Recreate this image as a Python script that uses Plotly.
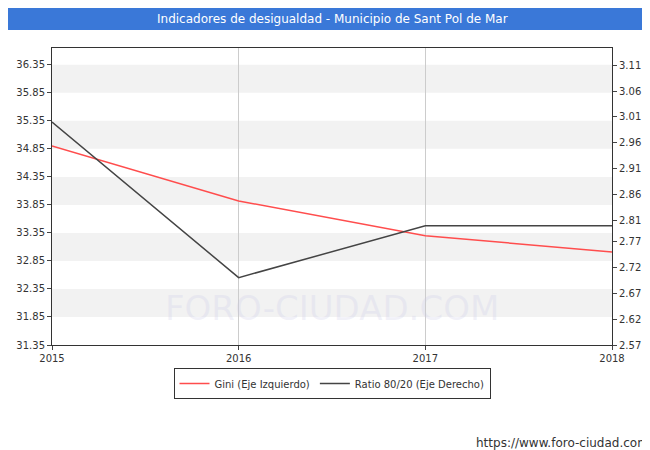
import plotly.graph_objects as go

years = [2015, 2016, 2017, 2018]
gini = [34.90, 33.92, 33.30, 33.01]
ratio = [3.00, 2.70, 2.80, 2.80]
left_ticks = [31.35, 31.85, 32.35, 32.85, 33.35, 33.85, 34.35, 34.85, 35.35, 35.85, 36.35]
right_ticks = [2.57, 2.62, 2.67, 2.72, 2.77, 2.81, 2.86, 2.91, 2.96, 3.01, 3.06, 3.11]

fig = go.Figure()
fig.add_trace(go.Scatter(x=years, y=gini, name="Gini (Eje Izquierdo)", mode="lines",
                         line=dict(color="#ff4d4d", width=1.5)))
fig.add_trace(go.Scatter(x=years, y=ratio, name="Ratio 80/20 (Eje Derecho)", mode="lines",
                         line=dict(color="#444444", width=1.5), yaxis="y2"))

# alternating grey bands
shapes = []
for i in range(1, len(left_ticks), 2):
    shapes.append(dict(type="rect", xref="paper", yref="y", x0=0, x1=1,
                       y0=left_ticks[i], y1=left_ticks[i + 1] if i + 1 < len(left_ticks) else 36.65,
                       fillcolor="#f2f2f2", line_width=0, layer="below"))
# title bar
shapes.append(dict(type="rect", xref="paper", yref="paper", x0=-0.1, x1=1.1, y0=1.061, y1=1.2,
                   fillcolor="#3a78d8", line_width=0))

fig.update_layout(
    width=650, height=450,
    margin=dict(l=44, r=46, t=40, b=113, autoexpand=False),
    paper_bgcolor="white", plot_bgcolor="white",
    font=dict(family="DejaVu Sans", size=10, color="#333"),
    shapes=shapes,
    showlegend=True,
    legend=dict(orientation="h", x=0.5, xanchor="center", y=-0.13, yanchor="middle",
                bgcolor="white", bordercolor="#333", borderwidth=1, font=dict(size=10)),
    xaxis=dict(range=[2015, 2018], tickvals=years, showgrid=True, gridcolor="#cccccc",
               showline=True, linecolor="#333", mirror=True, ticks="outside", ticklen=4,
               zeroline=False),
    yaxis=dict(range=[31.35, 36.65], tickvals=left_ticks, ticktext=[f"{v:.2f}" for v in left_ticks],
               showgrid=False, showline=True, linecolor="#333", mirror=True, zeroline=False,
               ticks="outside", ticklen=4),
    yaxis2=dict(range=[2.57, 3.143], tickvals=right_ticks, ticktext=[f"{v:.2f}" for v in right_ticks],
                overlaying="y", side="right", showgrid=False, zeroline=False,
                ticks="outside", ticklen=4),
    annotations=[
        dict(text="Indicadores de desigualdad - Municipio de Sant Pol de Mar", xref="paper", yref="paper",
             x=0.5, y=1.098, yanchor="middle", showarrow=False, font=dict(color="white", size=12)),
        dict(text="FORO-CIUDAD.COM", xref="paper", yref="paper", x=0.5, y=0.05, showarrow=False,
             font=dict(size=34, color="rgba(200,200,230,0.25)")),
        dict(text="https://www.foro-ciudad.com", xref="paper", yref="paper", x=1.07, y=-0.33,
             xanchor="right", yanchor="middle", showarrow=False, font=dict(size=12, color="#333")),
    ],
)

fig.write_html("out.html")
